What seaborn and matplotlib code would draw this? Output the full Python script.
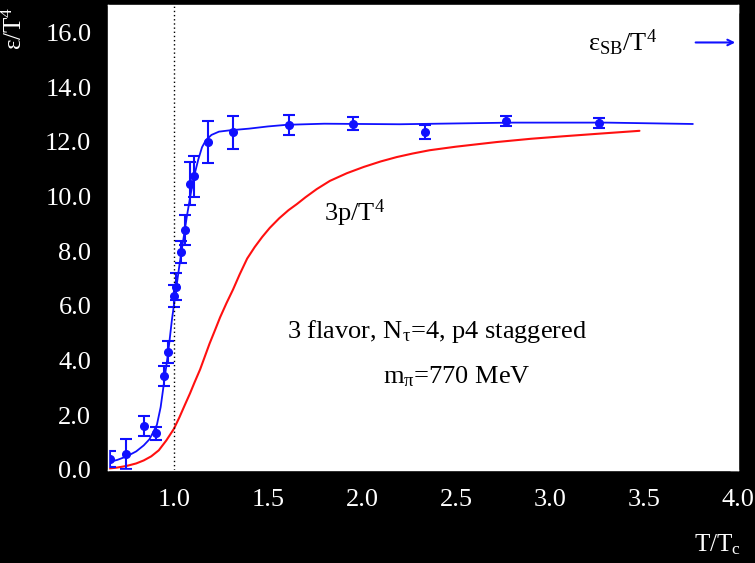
import numpy as np
import pandas as pd
import matplotlib
matplotlib.use('Agg')
import matplotlib.pyplot as plt
import seaborn as sns

# lattice data points: epsilon/T^4 vs T/Tc
t_data = [0.661, 0.746, 0.843, 0.905, 0.949, 0.969, 1.001, 1.012, 1.038, 1.060,
          1.086, 1.109, 1.180, 1.316, 1.613, 1.952, 2.336, 2.767, 3.263]
eps_data = [0.40, 0.57, 1.62, 1.35, 3.43, 4.31, 6.37, 6.70, 7.97, 8.77,
            10.47, 10.74, 12.00, 12.34, 12.61, 12.66, 12.35, 12.75, 12.69]
eps_err = [0.30, 0.55, 0.37, 0.24, 0.37, 0.41, 0.40, 0.50, 0.40, 0.55,
           0.80, 0.75, 0.76, 0.60, 0.36, 0.23, 0.25, 0.18, 0.18]

# fitted energy density curve
t_eps_fit = [0.65, 0.70, 0.75, 0.80, 0.84, 0.87, 0.89, 0.91, 0.93, 0.95, 0.97,
             0.99, 1.01, 1.03, 1.05, 1.07, 1.09, 1.11, 1.13, 1.15, 1.17, 1.20,
             1.24, 1.30, 1.40, 1.50, 1.60, 1.80, 2.20, 2.80, 3.30, 3.76]
eps_fit = [0.28, 0.37, 0.50, 0.68, 0.90, 1.12, 1.38, 1.65, 2.30, 3.30, 4.30,
           5.50, 6.50, 7.50, 8.40, 9.30, 10.10, 10.80, 11.35, 11.80, 12.05, 12.25,
           12.37, 12.42, 12.48, 12.56, 12.62, 12.66, 12.64, 12.70, 12.70, 12.65]

# pressure curve 3p/T^4
t_p = [0.65, 0.70, 0.75, 0.80, 0.84, 0.88, 0.92, 0.96, 1.00, 1.03, 1.06, 1.086,
       1.11, 1.14, 1.165, 1.19, 1.22, 1.246, 1.28, 1.315, 1.35, 1.39, 1.43, 1.47,
       1.51, 1.56, 1.61, 1.654, 1.70, 1.76, 1.83, 1.92, 2.01, 2.10, 2.185, 2.27,
       2.36, 2.50, 2.717, 2.90, 3.07, 3.27, 3.476]
p3 = [0.05, 0.09, 0.15, 0.24, 0.35, 0.50, 0.72, 1.08, 1.50, 1.93, 2.40, 2.80,
      3.20, 3.68, 4.15, 4.62, 5.13, 5.58, 6.10, 6.60, 7.15, 7.73, 8.15, 8.52,
      8.85, 9.20, 9.50, 9.72, 9.97, 10.27, 10.57, 10.85, 11.08, 11.28, 11.44, 11.57,
      11.69, 11.82, 11.99, 12.11, 12.20, 12.30, 12.40]

eps_sb = 15.63
x_ticks = [1.0, 1.5, 2.0, 2.5, 3.0, 3.5, 4.0]
y_ticks = [0, 2, 4, 6, 8, 10, 12, 14, 16]

sns.set_style('white')
plt.rcParams['font.family'] = ['Liberation Serif', 'DejaVu Serif']
plt.rcParams['mathtext.fontset'] = 'custom'
plt.rcParams['mathtext.rm'] = 'Liberation Serif'
plt.rcParams['mathtext.it'] = 'Liberation Serif'

blue = '#1010ff'
red = '#ff1010'
fs = 19

fig = plt.figure(figsize=(7.55, 5.63), dpi=100, facecolor='black')
ax = fig.add_axes([108/755, 1 - 470/563, 630/755, 465/563])
ax.set_facecolor('white')

fit_df = pd.DataFrame({'t': t_eps_fit, 'eps': eps_fit})
p_df = pd.DataFrame({'t': t_p, 'p': p3})
sns.lineplot(data=p_df, x='t', y='p', color=red, lw=1.5, ax=ax)
sns.lineplot(data=fit_df, x='t', y='eps', color=blue, lw=1.3, ax=ax)
ax.errorbar(t_data, eps_data, yerr=eps_err, fmt='o', ms=5.5, color=blue,
            elinewidth=1.5, capsize=4, capthick=1.5)

ax.axvline(1.0, color='black', lw=1, ls=(0, (1, 2)))

ax.annotate('', xy=(4.0, eps_sb), xytext=(3.76, eps_sb),
            arrowprops=dict(arrowstyle='->', color=blue, lw=1.5),
            annotation_clip=False)
ax.text(3.20, 15.6, r'$\mathrm{ε_{SB}/T^4}$', fontsize=fs, color='black',
        va='center', ha='left')
ax.text(1.80, 9.4, r'$\mathrm{3p/T^4}$', fontsize=fs, color='black',
        va='center', ha='left')
ax.text(3.20, 4.82, r'3 flavor, $\mathrm{N_τ}$=4, p4 staggered', fontsize=fs,
        color='black', va='baseline', ha='right')
ax.text(2.11, 3.18, r'$\mathrm{m_π}$=770 MeV', fontsize=fs, color='black',
        va='baseline', ha='left')

ax.set_xlim(0.65, 4.0)
ax.set_ylim(0, 17)
ax.set_xticks(x_ticks)
ax.set_yticks(y_ticks)
ax.set_xticklabels([f'{v:.1f}' for v in x_ticks])
ax.set_yticklabels([f'{v:.1f}' for v in y_ticks])
ax.tick_params(direction='in', length=6, width=1, colors='white',
               labelcolor='white', labelsize=fs, top=True, right=True)
ax.tick_params(axis='x', pad=14)
ax.tick_params(axis='y', pad=12)
for s in ax.spines.values():
    s.set_color('white')
    s.set_linewidth(1)
ax.set_xlabel('')
ax.set_ylabel('')

fig.text(15/755, 1 - 28/563, r'$\mathrm{ε/T^4}$', rotation=90, color='white',
         fontsize=18, ha='center', va='center')
fig.text(717/755, 1 - 545/563, r'$\mathrm{T/T_c}$', color='white',
         fontsize=18, ha='center', va='center')

fig.savefig('out.png', dpi=100, facecolor='black')
